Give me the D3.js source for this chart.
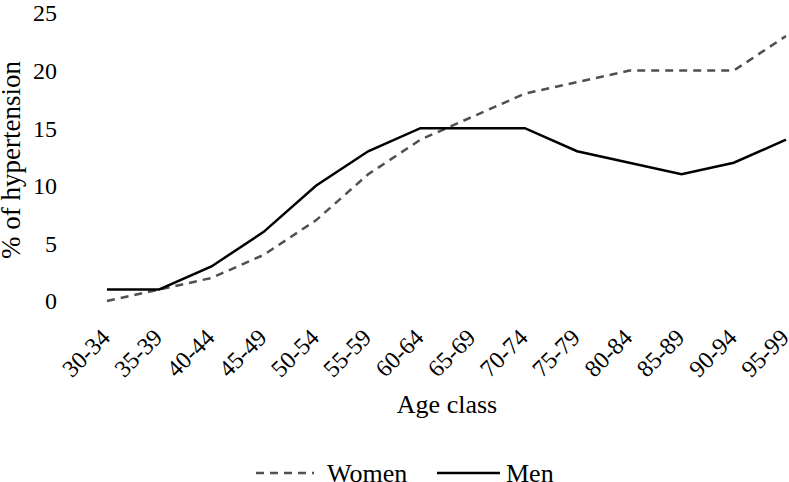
<!DOCTYPE html>
<html><head><meta charset="utf-8">
<script src="https://cdn.jsdelivr.net/npm/d3@7"></script>
</head><body style="margin:0">
<svg id="c" width="789" height="482" font-family="Liberation Serif"></svg>
<script>
const categories = ["30-34","35-39","40-44","45-49","50-54","55-59","60-64","65-69","70-74","75-79","80-84","85-89","90-94","95-99"];
const women = [0,1,2,4,7,11,14,16,18,19,20,20,20,23];
const men = [1,1,3,6,10,13,15,15,15,13,12,11,12,14];
const yTicks = [0,5,10,15,20,25];

const FONT = "Liberation Serif";
const svg = d3.select("#c");
const x = d3.scalePoint().domain(categories).range([107, 786]);
const y = d3.scaleLinear().domain([0,25]).range([301, 13]);

// y axis labels
const yAx = svg.append("g").attr("transform","translate(57,0)")
  .call(d3.axisLeft(y).tickValues(yTicks).tickSize(0).tickPadding(0));
yAx.attr("font-family", FONT).attr("font-size", 24);
yAx.select(".domain").remove();
yAx.selectAll("text").attr("font-family",FONT).attr("font-size",24).attr("fill","#000").attr("dy","0.33em");

// x axis labels
const xAx = svg.append("g")
  .call(d3.axisBottom(x).tickSize(0).tickPadding(0));
xAx.attr("font-family", FONT).attr("font-size", 24);
xAx.select(".domain").remove();
xAx.selectAll("text").attr("font-family",FONT).attr("font-size",24).attr("fill","#000")
  .attr("text-anchor","end").attr("x",0).attr("y",0).attr("dy",null)
  .attr("transform","translate(4,339) rotate(-45)");

// axis titles
svg.append("text").attr("x",447).attr("y",413).attr("text-anchor","middle")
  .attr("font-family",FONT).attr("font-size",26).text("Age class");
svg.append("text").attr("transform","translate(20,160) rotate(-90)").attr("text-anchor","middle")
  .attr("font-family",FONT).attr("font-size",27).text("% of hypertension");

const line = d3.line().x((d,i)=>x(categories[i])).y(d=>y(d));
svg.append("path").datum(women).attr("d",line).attr("fill","none").attr("stroke","#505050").attr("stroke-width",2.5).attr("stroke-dasharray","8,6");
svg.append("path").datum(men).attr("d",line).attr("fill","none").attr("stroke","#000").attr("stroke-width",2.5);

// legend
const lg = svg.append("g");
lg.append("line").attr("x1",256).attr("x2",314).attr("y1",473).attr("y2",473).attr("stroke","#505050").attr("stroke-width",2.5).attr("stroke-dasharray","8,6");
lg.append("text").attr("x",327).attr("y",482).attr("font-family",FONT).attr("font-size",26).text("Women");
lg.append("line").attr("x1",437).attr("x2",500).attr("y1",473).attr("y2",473).attr("stroke","#000").attr("stroke-width",2.5);
lg.append("text").attr("x",506).attr("y",482).attr("font-family",FONT).attr("font-size",26).text("Men");
</script>
</body></html>
